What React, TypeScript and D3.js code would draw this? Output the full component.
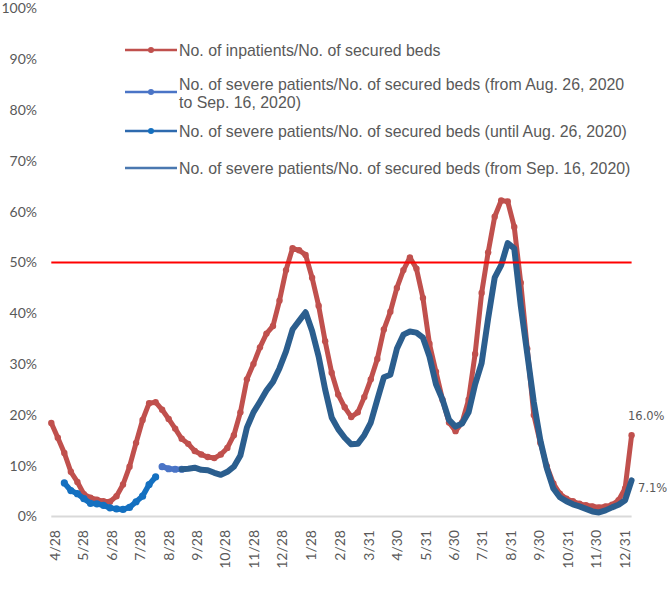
import React from "react";
import * as d3 from "d3";

// ---- DATA ----
const firstDate = "2020-04-24"; // weekly points
const inpatients = [
  18.4, 15.5, 12.5, 8.8, 6.8, 4.4, 3.7, 3.3, 3.0, 2.9,
  4.0, 6.3, 9.8, 14.5, 19.0, 22.3, 22.5, 21.0, 19.2, 17.3,
  15.3, 14.3, 12.9, 12.2, 11.7, 11.5, 12.2, 13.5, 16.0, 20.5,
  27.0, 30.0, 33.3, 36.0, 37.5, 42.5, 48.5, 52.8, 52.4, 51.5,
  47.0, 41.5, 34.5, 28.3, 24.0, 21.5, 19.6, 20.5, 23.5, 27.0,
  31.0, 36.8, 40.3, 45.0, 48.5, 51.0, 48.8, 43.0, 34.0, 28.5,
  23.0, 18.5, 16.8, 18.5, 23.0, 32.0, 44.0, 52.0, 59.0, 62.2,
  62.0, 57.0, 46.0, 33.0, 20.0, 14.5, 9.9, 6.5, 4.5, 3.5,
  3.0, 2.5, 2.2, 2.0, 1.8, 2.0, 2.3, 3.2, 5.5, 16.0,
];
const severeUntilAug26Start = 2;
const severeUntilAug26 = [6.6, 5.1, 4.5, 3.5, 2.6, 2.5, 2.2, 1.7, 1.5, 1.4, 1.8, 2.9, 4.0, 6.3, 7.8];
const severeAug26toSep16Start = 17;
const severeAug26toSep16 = [9.8, 9.4, 9.3, 9.3];
const severeFromSep16Start = 20;
const severeFromSep16 = [
  9.3, 9.4, 9.6, 9.2, 9.1, 8.6, 8.2, 8.8, 9.8, 12.0,
  17.5, 20.5, 22.6, 24.8, 26.5, 29.2, 32.5, 36.8, 38.5, 40.2,
  36.5, 31.5, 25.0, 19.5, 17.2, 15.5, 14.2, 14.3, 16.0, 18.5,
  23.0, 27.4, 27.9, 33.0, 35.8, 36.4, 36.2, 35.2, 31.5, 26.0,
  23.0, 19.0, 17.7, 18.3, 20.5, 26.0, 30.2, 39.0, 47.0, 49.5,
  53.8, 52.8, 41.5, 32.0, 22.5, 15.0, 9.5, 5.5, 3.8, 3.0,
  2.4, 2.0, 1.5, 1.0, 0.8, 1.2, 1.8, 2.3, 3.2, 7.1,
];
const tickDates = [
  "2020-04-28", "2020-05-28", "2020-06-28", "2020-07-28", "2020-08-28", "2020-09-28",
  "2020-10-28", "2020-11-28", "2020-12-28", "2021-01-28", "2021-02-28", "2021-03-31",
  "2021-04-30", "2021-05-31", "2021-06-30", "2021-07-31", "2021-08-31", "2021-09-30",
  "2021-10-31", "2021-11-30", "2021-12-31",
];
const yTicks = [0, 10, 20, 30, 40, 50, 60, 70, 80, 90, 100];
const thresholdValue = 50;
const legendLabels = [
  ["No. of inpatients/No. of secured beds"],
  ["No. of severe patients/No. of secured beds (from Aug. 26, 2020", "to Sep. 16, 2020)"],
  ["No. of severe patients/No. of secured beds (until Aug. 26, 2020)"],
  ["No. of severe patients/No. of secured beds (from Sep. 16, 2020)"],
];

const parse = d3.timeParse("%Y-%m-%d");
const fmt = d3.timeFormat("%-m/%-d");
const start = parse(firstDate) as Date;
const dateAt = (i: number) => d3.timeDay.offset(start, i * 7);

type P = { d: Date; v: number };
const toPts = (arr: number[], s: number): P[] => arr.map((v, k) => ({ d: dateAt(s + k), v }));

const RED = "#C0504D";
const DARK = "#2B5E8E";
const BRIGHT = "#1470C0";
const MED = "#4A74C6";
const TXT = "#595959";

export default function App() {
  const W = 667, H = 599;
  const x = d3.scaleTime().domain([start, dateAt(inpatients.length - 1)]).range([51.3, 631.6]);
  const y = d3.scaleLinear().domain([0, 100]).range([516.5, 8.5]);
  const line = d3.line<P>().x((p) => x(p.d)).y((p) => y(p.v));

  const red = toPts(inpatients, 0);
  const bright = toPts(severeUntilAug26, severeUntilAug26Start);
  const med = toPts(severeAug26toSep16, severeAug26toSep16Start);
  const dark = toPts(severeFromSep16, severeFromSep16Start);

  const font = "Lato, 'Open Sans', sans-serif";
  const lfont = "'Liberation Sans', Arial, sans-serif";
  const legendY = [50, 92, 131, 168];
  const legendColors = [RED, MED, "#2E6AAE", "#4A78B0"];
  const legendDots = [RED, MED, BRIGHT, null];

  const lastRed = red[red.length - 1];
  const lastDark = dark[dark.length - 1];

  return (
    <div style={{ position: "absolute", left: 0, top: 0 }}>
      <svg width={W} height={H} style={{ display: "block", background: "#fff" }}>
        {/* baseline */}
        <line x1={x.range()[0]} x2={x.range()[1]} y1={y(0)} y2={y(0)} stroke="#d9d9d9" strokeWidth={2} />
        {/* y labels */}
        {yTicks.map((t) => (
          <text key={t} x={37} y={y(t)} dy="0.35em" textAnchor="end" fontFamily={font} fontSize={14} fill={TXT}>
            {t}%
          </text>
        ))}
        {/* x labels */}
        {tickDates.map((s) => {
          const d = parse(s) as Date;
          const xx = x(d);
          return (
            <text key={s} transform={`translate(${xx},530) rotate(-90)`} dy="0.35em" textAnchor="end"
              fontFamily={font} fontSize={14} fill={TXT}>
              {fmt(d)}
            </text>
          );
        })}
        {/* red series */}
        <path d={line(red) || ""} fill="none" stroke={RED} strokeWidth={5} strokeLinejoin="round" strokeLinecap="round" />
        {red.map((p, i) => (
          <circle key={"r" + i} cx={x(p.d)} cy={y(p.v)} r={3.2} fill={RED} />
        ))}
        {/* blue series */}
        <path d={line(bright) || ""} fill="none" stroke={BRIGHT} strokeWidth={5.5} strokeLinejoin="round" strokeLinecap="round" />
        {bright.map((p, i) => (
          <circle key={"b" + i} cx={x(p.d)} cy={y(p.v)} r={3.6} fill={BRIGHT} />
        ))}
        <path d={line(med) || ""} fill="none" stroke={MED} strokeWidth={5.5} strokeLinejoin="round" strokeLinecap="round" />
        {med.map((p, i) => (
          <circle key={"m" + i} cx={x(p.d)} cy={y(p.v)} r={3.6} fill={MED} />
        ))}
        <path d={line(dark) || ""} fill="none" stroke={DARK} strokeWidth={6} strokeLinejoin="round" strokeLinecap="round" />
        {/* threshold */}
        <line x1={x.range()[0]} x2={x.range()[1]} y1={y(thresholdValue)} y2={y(thresholdValue)} stroke="#FF0000" strokeWidth={2} />
        {/* end labels */}
        <text x={628} y={y(lastRed.v) - 19} dy="0.35em" fontFamily="'DejaVu Sans', sans-serif" fontSize={11.5} fill={TXT}>
          {lastRed.v.toFixed(1)}%
        </text>
        <text x={638} y={y(lastDark.v) + 8} dy="0.35em" fontFamily="'DejaVu Sans', sans-serif" fontSize={11.5} fill={TXT}>
          {lastDark.v.toFixed(1)}%
        </text>
        {/* legend */}
        {legendLabels.map((lines, i) => (
          <g key={"l" + i}>
            <line x1={125} x2={177} y1={legendY[i]} y2={legendY[i]} stroke={legendColors[i]} strokeWidth={2.5} />
            {legendDots[i] && <circle cx={151} cy={legendY[i]} r={3} fill={legendDots[i] as string} />}
            {lines.map((t, j) => (
              <text key={j} x={179} y={legendY[i] + (lines.length > 1 ? (j === 0 ? -8 : 10) : 0)} dy="0.35em"
                fontFamily={lfont} fontSize={15.9} fill={TXT}>
                {t}
              </text>
            ))}
          </g>
        ))}
      </svg>
    </div>
  );
}
